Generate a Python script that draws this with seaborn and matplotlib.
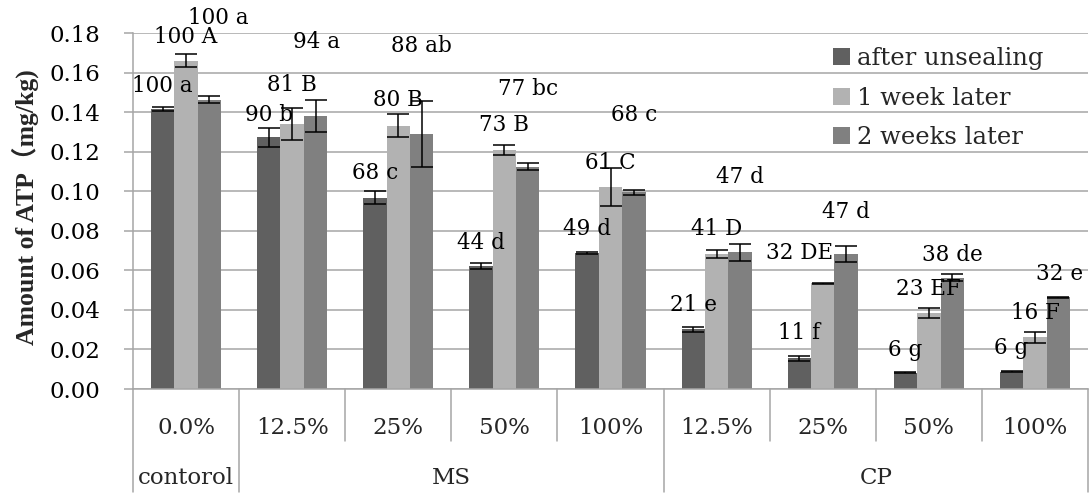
import matplotlib
matplotlib.use("Agg")
import matplotlib.pyplot as plt
import matplotlib.transforms as mtransforms
import numpy as np
import pandas as pd
import seaborn as sns

# ---- data -----------------------------------------------------------------
category_keys = ["control 0.0%", "MS 12.5%", "MS 25%", "MS 50%", "MS 100%",
                 "CP 12.5%", "CP 25%", "CP 50%", "CP 100%"]
tick_labels = ["0.0%", "12.5%", "25%", "50%", "100%",
               "12.5%", "25%", "50%", "100%"]
group_names = ["contorol", "MS", "CP"]
group_sizes = [1, 4, 4]
series_names = ["after unsealing", "1 week later", "2 weeks later"]

atp_after = [0.1415, 0.1272, 0.0968, 0.0622, 0.0688, 0.0303, 0.0155, 0.0082, 0.0087]
atp_week1 = [0.1660, 0.1340, 0.1332, 0.1207, 0.1020, 0.0683, 0.0534, 0.0383, 0.0261]
atp_week2 = [0.1463, 0.1380, 0.1290, 0.1124, 0.0995, 0.0691, 0.0682, 0.0563, 0.0464]

err_after = [0.0010, 0.0050, 0.0034, 0.0014, 0.0003, 0.0013, 0.0013, 0.0003, 0.0003]
err_week1 = [0.0032, 0.0080, 0.0058, 0.0025, 0.0097, 0.0019, 0.0003, 0.0025, 0.0027]
err_week2 = [0.0018, 0.0083, 0.0168, 0.0017, 0.0012, 0.0042, 0.0041, 0.0019, 0.0003]

# relative amount (%) and significance letters
labels_after = ["100 a", "90 b", "68 c", "44 d", "49 d", "21 e", "11 f", "6 g", "6 g"]
labels_week1 = ["100 A", "81 B", "80 B", "73 B", "61 C", "41 D", "32 DE", "23 EF", "16 F"]
labels_week2 = ["100 a", "94 a", "88 ab", "77 bc", "68 c", "47 d", "47 d", "38 de", "32 e"]

# ---- label placement (height above bar top, sideways nudge) ---------------
lift_after = [0.0117, 0.0113, 0.0124, 0.0116, 0.0121, 0.0122, 0.0128, 0.0115, 0.0120]
lift_week1 = [0.0120, 0.0197, 0.0129, 0.0128, 0.0123, 0.0126, 0.0154, 0.0123, 0.0123]
lift_week2 = [0.0412, 0.0374, 0.0444, 0.0393, 0.0390, 0.0381, 0.0213, 0.0115, 0.0117]
nudge_after = [0.0] * 9
nudge_week1 = [0, 0, 0, 0, 0, 0, -0.214, 0, 0]
nudge_week2 = [0.08, 0.01, 0, 0, 0, 0, 0, 0, 0.01]

colors = ["#606060", "#b2b2b2", "#808080"]
grid_gray = "#a6a6a6"
serif = "DejaVu Serif"

# ---- long-form table --------------------------------------------------------
values = [atp_after, atp_week1, atp_week2]
df = pd.DataFrame({
    "category": np.tile(category_keys, 3),
    "series": np.repeat(series_names, len(category_keys)),
    "atp": np.concatenate(values),
})

sns.set_style("white")
plt.rcParams["font.family"] = [serif]

fig = plt.figure(figsize=(10.89, 4.95), dpi=100)
ax = fig.add_axes([133 / 1089, 106 / 495, 955 / 1089, 356 / 495])

sns.barplot(data=df, x="category", y="atp", hue="series",
            order=category_keys, hue_order=series_names,
            palette=colors, width=0.66, gap=0, errorbar=None,
            saturation=1, legend=False, ax=ax, zorder=2, linewidth=0)

bar_containers = list(ax.containers)
errors = [err_after, err_week1, err_week2]
labels = [labels_after, labels_week1, labels_week2]
lifts = [lift_after, lift_week1, lift_week2]
nudges = [nudge_after, nudge_week1, nudge_week2]

for k, container in enumerate(bar_containers):
    xs = np.array([p.get_x() + p.get_width() / 2 for p in container.patches])
    hs = np.array([p.get_height() for p in container.patches])
    ax.errorbar(xs, hs, yerr=errors[k], fmt="none", ecolor="black",
                elinewidth=1.1, capsize=8, capthick=1.1, zorder=3)
    for x, h, txt, lift, dx in zip(xs, hs, labels[k], lifts[k], nudges[k]):
        ax.text(x + dx, h + lift, txt, ha="center", va="center",
                fontsize=15.5, family=serif, color="black", zorder=4)

# ---- axes styling -------------------------------------------------------------
ax.set_xlim(-0.5, len(category_keys) - 0.5)
ax.set_ylim(0, 0.18)
ax.set_yticks(np.arange(0, 0.181, 0.02))
ax.set_yticklabels([f"{v:.2f}" for v in np.arange(0, 0.181, 0.02)])
ax.yaxis.grid(True, color=grid_gray, linewidth=1.1, zorder=0)
ax.set_axisbelow(True)
ax.tick_params(axis="y", length=6.5, width=1.1, color=grid_gray, pad=17,
               labelsize=16.5, labelcolor="black", left=True)
ax.set_xticks([])
ax.set_xlabel("")
ax.set_ylabel("")
for side in ["top", "right"]:
    ax.spines[side].set_visible(False)
for side in ["left", "bottom"]:
    ax.spines[side].set_color(grid_gray)
    ax.spines[side].set_linewidth(1.1)

# category and group labels beneath the axis, with dividers
trans = mtransforms.blended_transform_factory(ax.transData, ax.transAxes)
for i, lab in enumerate(tick_labels):
    ax.text(i, -0.1264, lab, transform=trans, ha="center", va="baseline",
            fontsize=16.5, family=serif)

bounds = np.cumsum([0] + group_sizes) - 0.5
for i in range(len(category_keys) + 1):
    x = i - 0.5
    low = -0.29 if x in bounds else -0.146
    ax.plot([x, x], [0, low], transform=trans, color=grid_gray,
            linewidth=1.1, clip_on=False)
for name, a, b in zip(group_names, bounds[:-1], bounds[1:]):
    ax.text((a + b) / 2, -0.267, name, transform=trans, ha="center",
            va="baseline", fontsize=16.5, family=serif)

fig.text(25 / 1089, 1 - 207 / 495, "Amount of ATP（mg/kg)", rotation=90,
         ha="center", va="center", fontsize=18.5, fontweight="bold",
         family=["Liberation Serif", "Noto Sans CJK JP"])

ax.legend(bar_containers, series_names, loc="upper left",
          bbox_to_anchor=(0.733, 0.96), frameon=False,
          prop={"family": serif, "size": 17.5},
          handlelength=0.7, handleheight=0.7, handletextpad=0.3,
          labelspacing=0.68, borderpad=0, borderaxespad=0)

fig.savefig("out.png", dpi=100)
